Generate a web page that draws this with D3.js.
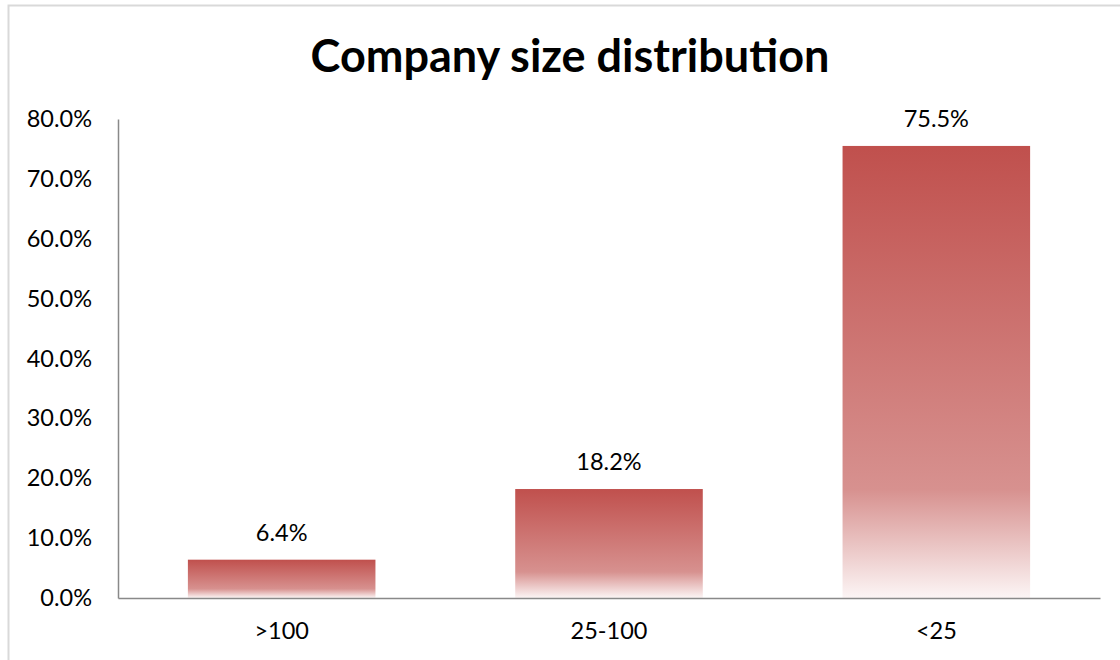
<!DOCTYPE html>
<html>
<head>
<meta charset="utf-8">
<script src="https://cdn.jsdelivr.net/npm/d3@7"></script>
<style>
  html, body { margin: 0; padding: 0; background: #fff; }
  svg text { font-family: Lato, "Open Sans", sans-serif; fill: #000; }
</style>
</head>
<body>
<svg id="chart" width="1120" height="660"></svg>
<script>
// Share of companies by headcount band
const categories = [">100", "25-100", "<25"];
const shares = [6.4, 18.2, 75.5];
const yTicks = [0, 10, 20, 30, 40, 50, 60, 70, 80];

const width = 1120, height = 660;
const margin = { left: 118, right: 20, top: 119, bottom: 62 };

const svg = d3.select("#chart");

// chart frame
svg.append("rect")
  .attr("x", 8.5).attr("y", 5.5)
  .attr("width", width + 20).attr("height", height + 20)
  .attr("fill", "#fff")
  .attr("stroke", "#d9d9d9")
  .attr("stroke-width", 2);

// vertical fade used by each bar
const defs = svg.append("defs");
const grad = defs.append("linearGradient")
  .attr("id", "barFade")
  .attr("x1", 0).attr("y1", 0).attr("x2", 0).attr("y2", 1);
grad.append("stop").attr("offset", "0%").attr("stop-color", "#c0504d");
grad.append("stop").attr("offset", "76%").attr("stop-color", "#d7918f");
grad.append("stop").attr("offset", "100%").attr("stop-color", "#fcf5f5");

const x = d3.scaleBand()
  .domain(categories)
  .range([margin.left, width - margin.right])
  .paddingInner(0.427)
  .paddingOuter(0.2135);

const y = d3.scaleLinear()
  .domain([0, 80])
  .range([height - margin.bottom, margin.top]);

// title
svg.append("text")
  .attr("x", 570).attr("y", 72)
  .attr("text-anchor", "middle")
  .attr("font-weight", "bold")
  .attr("font-size", 45)
  .text("Company size distribution");

// bars
svg.append("g").selectAll("rect")
  .data(shares)
  .join("rect")
  .attr("x", (d, i) => x(categories[i]))
  .attr("y", d => y(d))
  .attr("width", x.bandwidth())
  .attr("height", d => y(0) - y(d))
  .attr("fill", "url(#barFade)");

// value labels
svg.append("g").selectAll("text")
  .data(shares)
  .join("text")
  .attr("x", (d, i) => x(categories[i]) + x.bandwidth() / 2)
  .attr("y", d => y(d) - 19)
  .attr("text-anchor", "middle")
  .attr("font-size", 23.5)
  .text(d => d.toFixed(1) + "%");

// y axis
const yAxis = d3.axisLeft(y)
  .tickValues(yTicks)
  .tickSize(0)
  .tickPadding(26)
  .tickFormat(d => d.toFixed(1) + "%");
const gy = svg.append("g")
  .attr("transform", `translate(${margin.left},0)`)
  .call(yAxis);
gy.select(".domain").attr("stroke", "#898989").attr("stroke-width", 1.5);
gy.selectAll("text").attr("font-size", 23.5).attr("fill", "#000").style("font-family", "Lato, sans-serif");

// x axis
const xAxis = d3.axisBottom(x).tickSize(0).tickPadding(24);
const gx = svg.append("g")
  .attr("transform", `translate(0,${y(0)})`)
  .call(xAxis);
gx.select(".domain").attr("stroke", "#898989").attr("stroke-width", 1.5);
gx.selectAll("text").attr("font-size", 23.5).attr("fill", "#000").style("font-family", "Lato, sans-serif");
</script>
</body>
</html>
